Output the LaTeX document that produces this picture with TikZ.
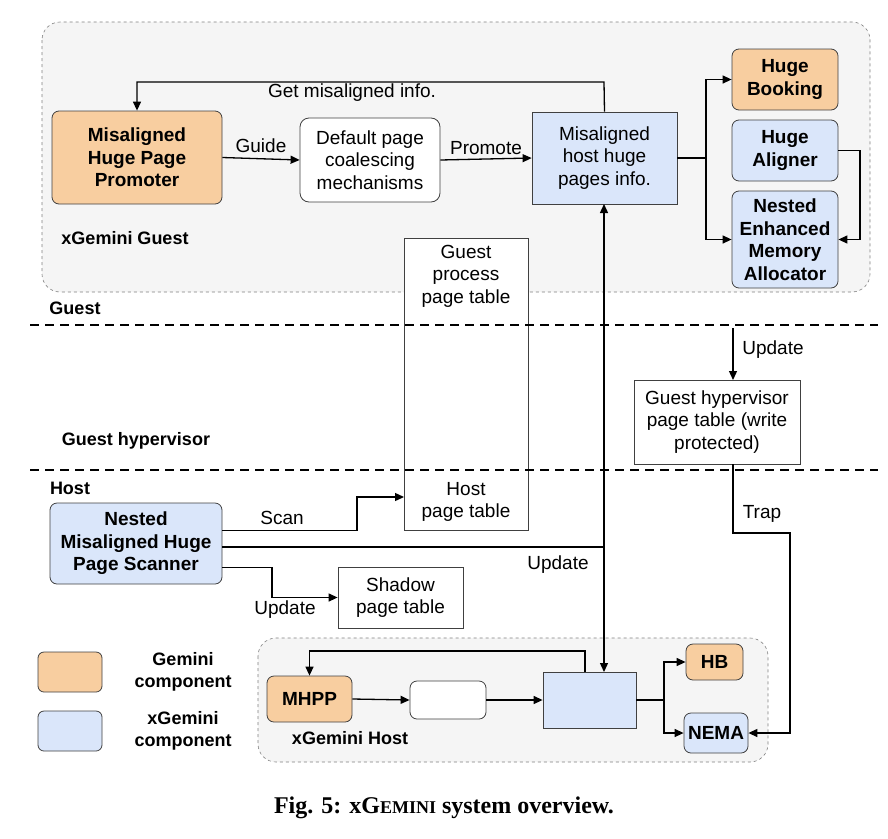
\documentclass[tikz,border=0pt]{standalone}
\usepackage{fontspec}
\setmainfont{Liberation Sans}
\newfontfamily\capfont{Liberation Serif}
\usetikzlibrary{arrows.meta}
\definecolor{orn}{RGB}{248,206,160}
\definecolor{blu}{RGB}{218,230,250}
\definecolor{bgg}{RGB}{245,245,245}
\begin{document}
\begin{tikzpicture}[x=1pt,y=-1pt,
  every node/.style={font=\fontsize{19}{22.5}\selectfont,align=center,inner sep=0pt},
  bx/.style={draw=black!75,line width=0.8pt},
  obox/.style={bx,fill=orn,rounded corners=7pt,font=\fontsize{19}{22.5}\selectfont\bfseries},
  bbox/.style={bx,fill=blu,rounded corners=7pt,font=\fontsize{19}{22.5}\selectfont\bfseries},
  arr/.style={line width=1.3pt,-{Triangle[length=9pt,width=8pt]}},
  ln/.style={line width=1.3pt},
  cont/.style={draw=black!50,dashed,fill=bgg,rounded corners=18pt,line width=0.6pt},
  lbl/.style={font=\fontsize{18}{22}\selectfont\bfseries}]
\useasboundingbox (0,0) rectangle (888,838);
% containers
\path[cont] (42,22) rectangle (870,292);
\path[cont] (258,638) rectangle (768,762);
% guest
\node[obox,minimum width=170,minimum height=93] (mhpp) at (137,157.5) {Misaligned\\Huge Page\\Promoter};
\node[bx,fill=white,rounded corners=9pt,minimum width=140,minimum height=84] (dpc) at (370,160) {Default page\\coalescing\\mechanisms};
\node[bx,fill=blu,minimum width=145,minimum height=92] (info) at (604.5,158) {Misaligned\\host huge\\pages info.};
\node[obox,minimum width=106,minimum height=61] (hbk) at (785,79.5) {Huge\\Booking};
\node[bbox,minimum width=106,minimum height=61] (hal) at (785,150.5) {Huge\\Aligner};
\node[bbox,minimum width=106,minimum height=97] (nema) at (785,239.5) {Nested\\Enhanced\\Memory\\Allocator};
\node[lbl] (xgg) at (125,238) {xGemini Guest};
\draw[arr] (mhpp.east) -- node[above=5pt] (lguide) {Guide} (dpc.west);
\draw[arr] (dpc.east) -- node[above=4pt] (lprom) {Promote} (info.west);
\coordinate (i1) at (706,158);
\draw[ln] (info.east) -- (i1);
\draw[arr] (i1) |- (hbk.west);
\draw[arr] (i1) |- (nema.west);
\draw[arr] (hal.east) -- (860,150.5) |- (nema.east);
\draw[arr] (info.north) -- (604,82) -| (mhpp.north);
\node (lget) at (352,93) {Get misaligned info.};
% layer lines
\node[bx,fill=white,minimum width=124,minimum height=292] (gpt) at (466,384) {};
\node (gpttxt) at (466,276) {Guest\\process\\page table};
\node (hpt) at (466,502) {Host\\page table};
\draw[line width=1.8pt,dash pattern=on 9pt off 6pt] (30,325) -- (878,325);
\draw[line width=1.8pt,dash pattern=on 9pt off 6pt] (30,470) -- (878,470);
\node[lbl] (lguest) at (75,308) {Guest};
\node[lbl] (lgh) at (136,441) {Guest hypervisor};
\node[lbl] (lhost) at (70,488) {Host};
% guest hypervisor
\node[bx,fill=white,minimum width=166,minimum height=84] (ghpt) at (717,422) {Guest hypervisor\\page table (write\\protected)};
\coordinate (u0) at (733,328);
\draw[arr] (u0) -- (733,380);
\node (lupd1) at (773,350) {Update};
% host
\node[bbox,minimum width=172,minimum height=81] (scan) at (136,543.5) {Nested\\Misaligned Huge\\Page Scanner};
\node[bx,fill=white,minimum width=125,minimum height=61] (shadow) at (400.5,597.5) {Shadow\\page table};
\draw[arr] ([yshift=13]scan.east) -- (357,530.5) |- (404,497);
\node (lscan) at (282,518) {Scan};
\draw[arr] ([yshift=-24]scan.east) -- (272,567.5) |- (shadow.west);
\node (lupd3) at (285,610) {Update};
% host inner
\node[obox,minimum width=85,minimum height=46] (mhpp2) at (309.5,699) {MHPP};
\node[bx,fill=white,rounded corners=7pt,minimum width=76,minimum height=38] (dpc2) at (448,700) {};
\node[bx,fill=blu,minimum width=93,minimum height=56] (info2) at (589.5,700) {};
\node[obox,minimum width=57,minimum height=36] (hb2) at (714.5,662) {HB};
\node[bbox,minimum width=64,minimum height=40] (nema2) at (716,733) {NEMA};
\node[lbl] (xgh) at (350,738) {xGemini Host};
\draw[arr] (mhpp2.east) -- (dpc2.west);
\draw[arr] (dpc2.east) -- (info2.west);
\coordinate (i2) at (664,700);
\draw[ln] (info2.east) -- (i2);
\draw[arr] (i2) |- (hb2.west);
\draw[arr] (i2) |- (nema2.west);
\draw[arr] (585,672) -- (585,651) -| (mhpp2.north);
% vertical update
\draw[line width=1.3pt,{Triangle[length=9pt,width=8pt]}-{Triangle[length=9pt,width=8pt]}] (604,204) -- (604,672);
\draw[ln] ([yshift=-3.5]scan.east) -- (604,547);
\node (lupd2) at (558,565) {Update};
% trap
\draw[arr] (733,464) -- (733,533) -- (790,533) |- (nema2.east);
\node (ltrap) at (762,514) {Trap};
% legend
\node[bx,fill=orn,rounded corners=6pt,minimum width=64,minimum height=40] (lego) at (70,672) {};
\node[bx,fill=blu,rounded corners=6pt,minimum width=64,minimum height=40] (legb) at (70,731) {};
\node[lbl] (lgo) at (183,672) {Gemini\\component};
\node[lbl] (lgb) at (183,731) {xGemini\\component};
\node[font=\fontsize{24}{26}\capfont\bfseries] (cap) at (444,808) {Fig. 5: x{\fontsize{24}{26}\selectfont G}{\fontsize{18}{20}\selectfont EMINI} system overview.};
\end{tikzpicture}
\end{document}
